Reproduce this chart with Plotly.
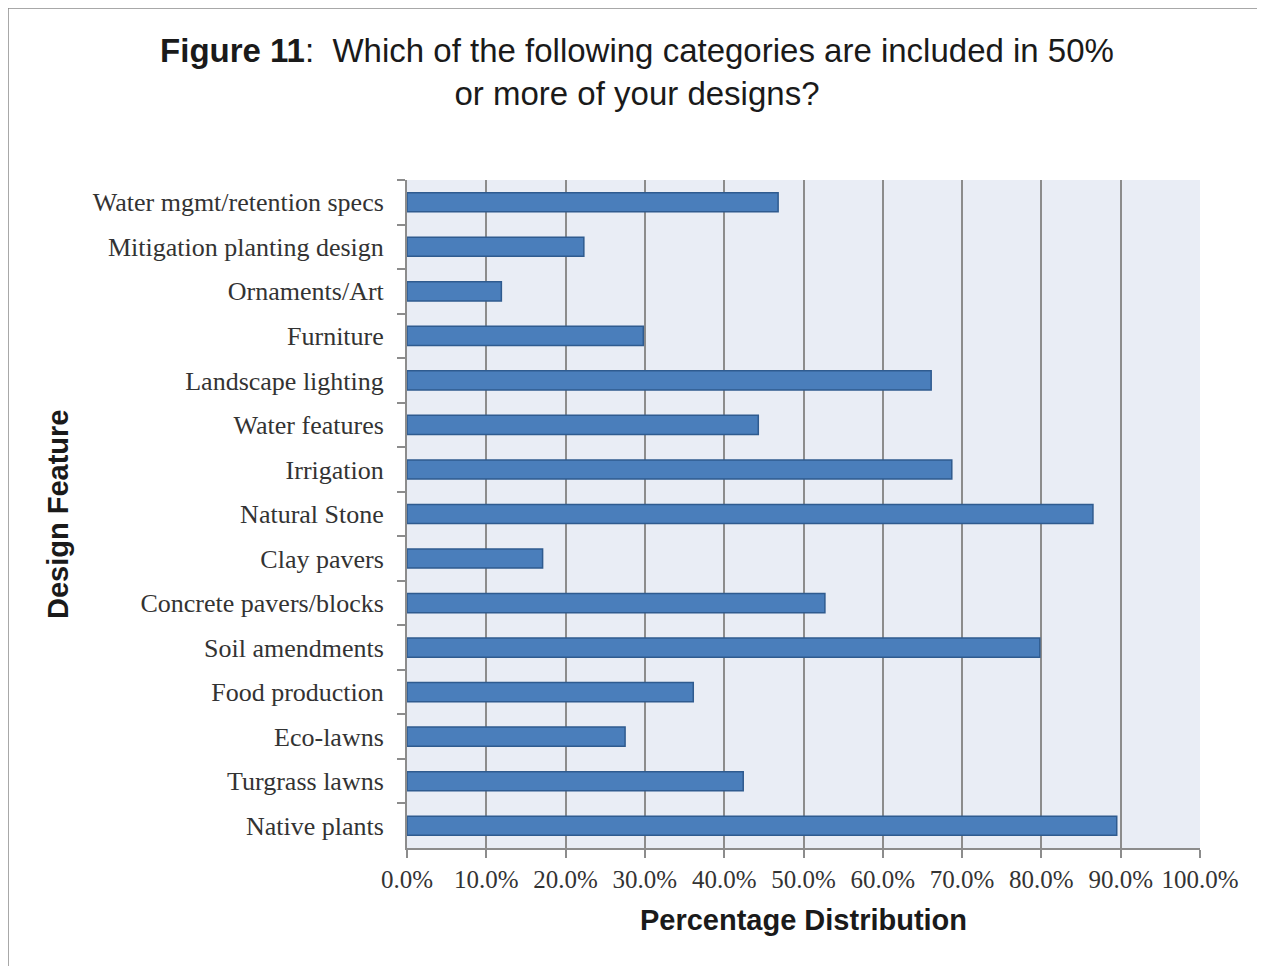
import plotly.graph_objects as go

categories = [
    "Water mgmt/retention specs",
    "Mitigation planting design",
    "Ornaments/Art",
    "Furniture",
    "Landscape lighting",
    "Water features",
    "Irrigation",
    "Natural Stone",
    "Clay pavers",
    "Concrete pavers/blocks",
    "Soil amendments",
    "Food production",
    "Eco-lawns",
    "Turgrass lawns",
    "Native plants",
]
values = [46.8, 22.3, 11.9, 29.8, 66.1, 44.3, 68.7, 86.5, 17.1, 52.7, 79.8, 36.1, 27.5, 42.4, 89.5]
x_ticks = [0, 10, 20, 30, 40, 50, 60, 70, 80, 90, 100]
x_tick_labels = [f"{v:.1f}%" for v in x_ticks]

# page body has an 8px offset; shift everything accordingly
OFF = 8
W, H = 1265 - OFF, 966 - OFF
L, R, T, B = 407 - OFF, 1200 - OFF, 180 - OFF, 848 - OFF

def px(x):
    return (x - OFF - L) / (R - L)

def py(y):
    return (B - (y - OFF)) / (B - T)

fig = go.Figure(go.Bar(
    y=categories, x=values, orientation="h",
    marker=dict(color="#4A7EBB", line=dict(color="#2F5B8F", width=1.5)),
))

fig.update_layout(
    width=W, height=H,
    margin=dict(l=L, r=W - R, t=T, b=H - B),
    paper_bgcolor="white",
    plot_bgcolor="#E9EDF5",
    bargap=0.57,
    showlegend=False,
    title=dict(
        text="<b>Figure 11</b>:  Which of the following categories are included in 50%<br>or more of your designs?",
        x=(637 - OFF) / W, xanchor="center", xref="container",
        y=1 - (62 - OFF) / H, yanchor="middle", yref="container",
        font=dict(family="Liberation Sans, Arial", size=33, color="#1a1a1a"),
    ),
    xaxis=dict(
        range=[0, 100], tickvals=x_ticks, ticktext=x_tick_labels,
        showgrid=True, gridcolor="#8C8C8C", gridwidth=2,
        showline=True, linecolor="#8C8C8C", linewidth=2,
        ticks="outside", ticklen=8, tickcolor="#8C8C8C", tickwidth=2,
        tickfont=dict(family="Liberation Serif, Times New Roman", size=25, color="#333333"),
        zeroline=False,
        title=dict(text="<b>Percentage Distribution</b>", standoff=18,
                   font=dict(family="Liberation Sans, Arial", size=29, color="#1a1a1a")),
        fixedrange=True,
    ),
    yaxis=dict(
        autorange="reversed",
        showline=True, linecolor="#8C8C8C", linewidth=2,
        ticks="outside", ticklen=8, tickcolor="#8C8C8C", tickwidth=2,
        tickson="boundaries",
        ticklabelstandoff=16,
        showgrid=False,
        tickfont=dict(family="Liberation Serif, Times New Roman", size=26, color="#333333"),
        fixedrange=True,
    ),
    annotations=[
        dict(text="<b>Design Feature</b>", xref="paper", yref="paper",
             x=px(58), y=py(514), xanchor="center", yanchor="middle",
             textangle=-90, showarrow=False,
             font=dict(family="Liberation Sans, Arial", size=29, color="#1a1a1a")),
    ],
    shapes=[
        dict(type="rect", xref="paper", yref="paper",
             x0=px(8), x1=px(1290),
             y0=py(990), y1=py(8),
             line=dict(color="#8C8C8C", width=1.5), fillcolor="rgba(0,0,0,0)", layer="below"),
    ],
)

fig.write_html("out.html")
